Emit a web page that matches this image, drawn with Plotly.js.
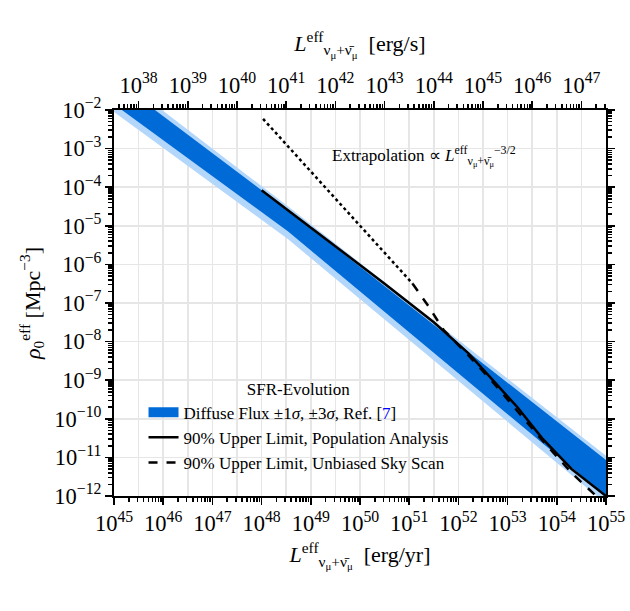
<!DOCTYPE html>
<html>
<head>
<meta charset="utf-8">
<script src="https://cdn.plot.ly/plotly-3.0.1.min.js"></script>
<style>body{margin:0;background:#fff}</style>
</head>
<body>
<div id="plot" style="width:630px;height:611px"></div>
<script>
// all values as log10
var bandX = [45, 48.54, 55]
var up3 = [-1.05, -4.50, -10.96]
var up1 = [-1.20, -4.60, -11.07]
var lo1 = [-1.85, -5.15, -12.0]
var lo3 = [-2.05, -5.35, -12.2]

var popX = [48.0, 50.5, 51.5, 52.2, 52.7, 53.2, 53.7, 54.3, 55.0]
var popY = [-4.08, -6.5, -7.5, -8.3, -9.0, -9.7, -10.5, -11.3, -12.0]

var skyX = [51.07, 51.4, 51.7, 52.2, 52.7, 53.2, 53.7, 54.3, 54.8]
var skyY = [-6.5, -7.1, -7.7, -8.35, -9.05, -9.8, -10.55, -11.4, -12.0]

var extX = [48.03, 51.07]
var extY = [-2.23, -6.5]

var SEC_PER_YR = 3.156e7

function p10(a){ return a.map(function(v){ return Math.pow(10, v) }) }

var font = {family: 'Liberation Serif, Times New Roman, serif', color: '#000', size: 17}
var tickFont = {family: font.family, color: '#000', size: 18}
var darkBlue = '#006bd6'
var lightBlue = '#b3d6fb'

var traces = [
    {x: p10(bandX), y: p10(lo3), mode: 'lines', line: {width: 0}, showlegend: false, hoverinfo: 'skip'},
    {x: p10(bandX), y: p10(up3), mode: 'lines', line: {width: 0}, fill: 'tonexty', fillcolor: lightBlue, showlegend: false, hoverinfo: 'skip'},
    {x: p10(bandX), y: p10(lo1), mode: 'lines', line: {width: 0}, showlegend: false, hoverinfo: 'skip'},
    {x: p10(bandX), y: p10(up1), mode: 'lines', line: {width: 0}, fill: 'tonexty', fillcolor: darkBlue, showlegend: false, hoverinfo: 'skip'},
    {x: [null], y: [null], mode: 'lines', line: {width: 12, color: darkBlue},
     name: 'Diffuse Flux ±1<i>σ</i>, ±3<i>σ</i>, Ref. [<span style="color:blue">7</span>]'},
    {x: p10(popX), y: p10(popY), mode: 'lines', line: {color: 'black', width: 2.5},
     name: '90% Upper Limit, Population Analysis'},
    {x: p10(skyX), y: p10(skyY), mode: 'lines', line: {color: 'black', width: 2.5, dash: 'dash'},
     name: '90% Upper Limit, Unbiased Sky Scan'},
    {x: p10(extX), y: p10(extY), mode: 'lines', line: {color: 'black', width: 2.5, dash: 'dot'},
     showlegend: false},
    {x: [1e38, 1e47], y: [1e-20, 1e-20], xaxis: 'x2', mode: 'lines', showlegend: false, hoverinfo: 'skip'}
]

var axBase = {
    type: 'log', showline: true, linecolor: 'black', linewidth: 2,
    ticks: 'outside', ticklen: 7, tickwidth: 1.5, tickcolor: 'black',
    dtick: 1, exponentformat: 'power', tickfont: tickFont,
    gridcolor: '#e6e6e6', gridwidth: 1.5, zeroline: false,
    minor: {ticks: 'outside', ticklen: 4, tickcolor: 'black', showgrid: false}
}

var layout = {
    width: 630, height: 611,
    margin: {l: 114, r: 24, t: 110, b: 115},
    paper_bgcolor: 'white', plot_bgcolor: 'white',
    font: font,
    xaxis: Object.assign({}, axBase, {
        range: [45, 55],
        title: {text: '<i>L</i><sup>eff</sup><sub>ν<sub>μ</sub>+ν̄<sub>μ</sub></sub>  [erg/yr]', font: {family: font.family, size: 22}, standoff: 12}
    }),
    xaxis2: Object.assign({}, axBase, {
        overlaying: 'x', side: 'top', anchor: 'y',
        range: [45 - Math.log10(SEC_PER_YR), 55 - Math.log10(SEC_PER_YR)],
        title: {text: '<i>L</i><sup>eff</sup><sub>ν<sub>μ</sub>+ν̄<sub>μ</sub></sub>  [erg/s]', font: {family: font.family, size: 22}, standoff: 12}
    }),
    yaxis: Object.assign({}, axBase, {
        range: [-12, -2], mirror: 'ticks',
        title: {text: '<i>ρ</i><sub>0</sub><sup>eff</sup> [Mpc<sup>−3</sup>]', font: {family: font.family, size: 22}, standoff: 8}
    }),
    legend: {
        x: 0.06, y: 0.04, xanchor: 'left', yanchor: 'bottom', traceorder: 'normal',
        bgcolor: 'rgba(255,255,255,0)', font: font,
        title: {text: 'SFR-Evolution', side: 'top center', font: font}
    },
    annotations: [{
        x: 0.44, y: 0.92, xref: 'paper', yref: 'paper', xanchor: 'left', showarrow: false,
        text: 'Extrapolation ∝ <i>L</i><sup>eff</sup><sub>ν<sub>μ</sub>+ν̄<sub>μ</sub></sub><sup>−3/2</sup>', font: font
    }]
}

Plotly.newPlot('plot', traces, layout, {displayModeBar: false, staticPlot: true})
</script>
</body>
</html>
